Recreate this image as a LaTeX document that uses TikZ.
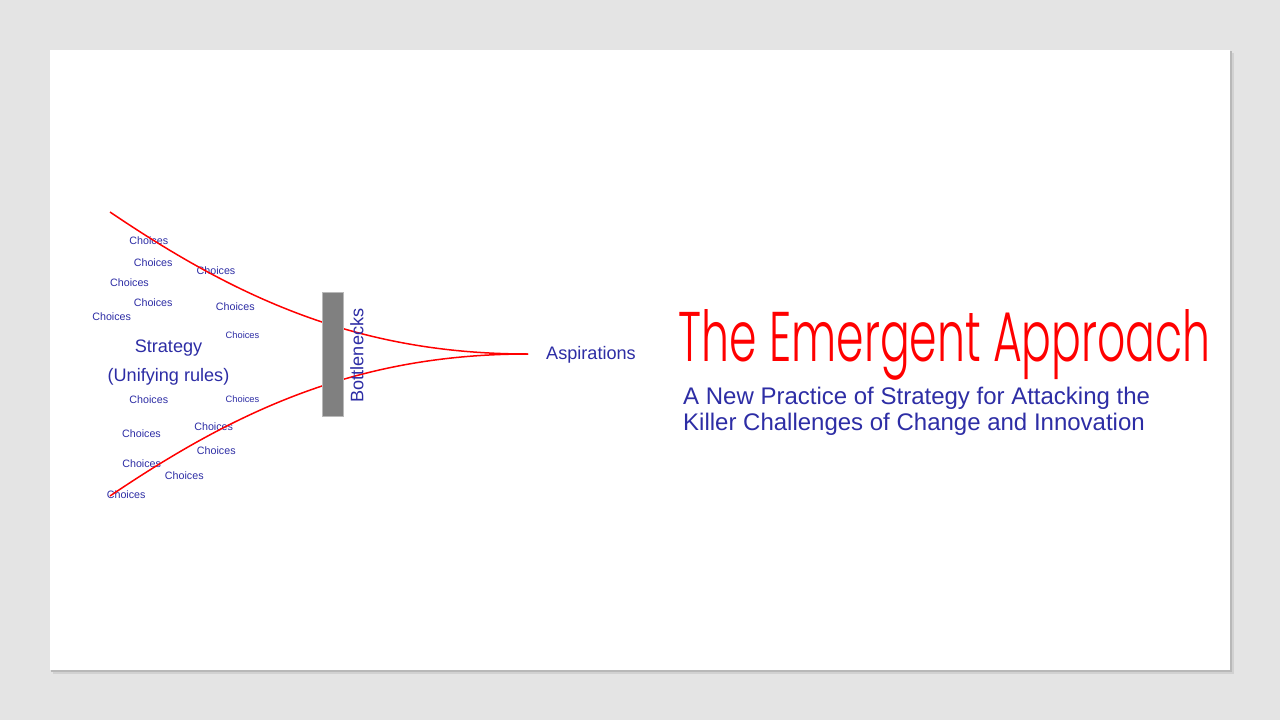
\documentclass[tikz,border=0pt]{standalone}
\usepackage{graphicx}
\usepackage{fontspec}
\setmainfont{Liberation Sans}
\IfFontExistsTF{Poppins Light}{\newfontfamily\titlefont{Poppins Light}}{\newfontfamily\titlefont{Poppins}}
\usetikzlibrary{positioning}
\definecolor{slidebg}{RGB}{228,228,228}
\definecolor{inkblue}{RGB}{45,45,165}
\definecolor{barfill}{RGB}{128,128,128}

\begin{document}
\begin{tikzpicture}[x=1pt,y=-1pt,
		txt/.style={text=inkblue,inner sep=0pt,font=\fontsize{18.1}{20}\selectfont},
		choice/.style={text=inkblue,inner sep=0pt,font=\fontsize{10.7}{12}\selectfont},
		smallchoice/.style={choice,font=\fontsize{9.3}{11}\selectfont},
		subtitle/.style={text=inkblue,inner sep=0pt,anchor=base west,font=\fontsize{24}{26}\selectfont},
		funnel/.style={red,line width=1.5pt},
		bar/.style={draw=gray!55,fill=barfill,line width=0.8pt,minimum width=21pt,minimum height=124pt,inner sep=0pt}]
		\fill[slidebg] (0,0) rectangle (1280,720);
		\fill[black!18] (53,53) rectangle (1234,674);
		\fill[black!28] (51,51) rectangle (1232,672);
		\fill[white] (50,50) rectangle (1230,670);
		\node[choice] (c1) at (148.8,241) {Choices};
		\node[choice] (c2) at (153.2,262.3) {Choices};
		\node[choice] (c3) at (216,270.7) {Choices};
		\node[choice] (c4) at (129.5,282.3) {Choices};
		\node[choice] (c5) at (153.2,302.7) {Choices};
		\node[choice] (c6) at (235.3,306.7) {Choices};
		\node[choice] (c7) at (111.7,316.7) {Choices};
		\node[smallchoice] (c8) at (242.5,335) {Choices};
		\node[choice] (c9) at (148.8,399.3) {Choices};
		\node[smallchoice] (c10) at (242.5,399.3) {Choices};
		\node[choice] (c11) at (141.5,433.7) {Choices};
		\node[choice] (c12) at (213.7,426.7) {Choices};
		\node[choice] (c13) at (216.3,450.7) {Choices};
		\node[choice] (c14) at (141.7,463.3) {Choices};
		\node[choice] (c15) at (184.3,475.7) {Choices};
		\node[choice] (c16) at (126.2,495) {Choices};
		\node[txt,anchor=base] (strategy) at (168.5,352.7) {Strategy};
		\node[txt] (unify) [below=28.3pt of strategy.base,anchor=base] {(Unifying rules)};
		\coordinate (topend) at (110,212);
		\coordinate (botend) at (110,496);
		\coordinate (tip) at (528,354);
		\draw[funnel] (topend) .. controls (240,300) and (360,354) .. (tip);
		\draw[funnel] (botend) .. controls (240,408) and (360,354) .. (tip);
		\node[bar] (bar) at (332.5,354) {};
		\node[txt,rotate=90] (neck) at (357,355.5) {Bottlenecks};
		\node[txt,anchor=base west] (asp) at (546,359) {Aspirations};
		\node[red,inner sep=0pt,anchor=base west] (title) at (678.5,361.5) {\resizebox{532pt}{52pt}{\titlefont The Emergent Approach}};
		\node[subtitle] (sub1) at (683,404) {A New Practice of Strategy for Attacking the};
		\node[subtitle] (sub2) [below=26pt of sub1.base west,anchor=base west] {Killer Challenges of Change and Innovation};
	\end{tikzpicture}
\end{document}
